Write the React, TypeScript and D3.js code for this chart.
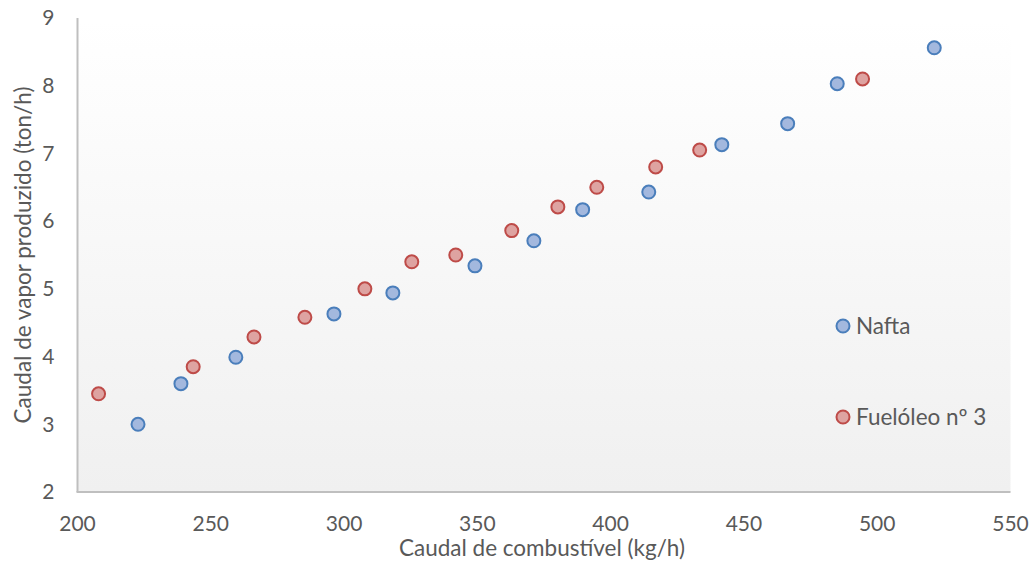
import React from 'react';
import * as d3 from 'd3';

// caudal de combustível (kg/h) vs caudal de vapor (ton/h)
const naftaX = [222.7, 238.8, 259.4, 296.2, 318.3, 349.1, 371.2, 389.5, 414.3, 441.7, 466.4, 485.0, 521.4];
const naftaY = [3.0, 3.6, 3.99, 4.63, 4.94, 5.34, 5.71, 6.17, 6.43, 7.13, 7.44, 8.03, 8.56];

const fuelX = [207.9, 243.4, 266.2, 285.3, 307.8, 325.4, 341.9, 362.9, 380.2, 394.8, 416.9, 433.4, 494.5];
const fuelY = [3.45, 3.85, 4.29, 4.58, 5.0, 5.40, 5.50, 5.86, 6.21, 6.50, 6.80, 7.05, 8.10];

const xTicks = [200, 250, 300, 350, 400, 450, 500, 550];
const yTicks = [2, 3, 4, 5, 6, 7, 8, 9];

const seriesNames = ['Nafta', 'Fuelóleo nº 3'];
const xTitle = 'Caudal de combustível (kg/h)';
const yTitle = 'Caudal de vapor produzido (ton/h)';

const W = 1030;
const H = 563;
const margin = { top: 18, right: 20, bottom: 71, left: 77.5 };
const font = 'Lato, "Open Sans", sans-serif';
const textColor = '#595959';

const styles = [
  { fill: '#a3b8de', stroke: '#4a7ebb' },
  { fill: '#dea3a1', stroke: '#be4b48' },
];

export default function App() {
  const x = d3.scaleLinear().domain([200, 550]).range([margin.left, 1010.5]);
  const y = d3.scaleLinear().domain([2, 9]).range([492, margin.top]);

  const series = [
    naftaX.map((v, i) => [v, naftaY[i]]),
    fuelX.map((v, i) => [v, fuelY[i]]),
  ];

  // legend entries sit inside the plot, right side
  const legendY = [326, 417];

  return (
    <svg width={W} height={H} style={{ position: 'absolute', left: 0, top: 0, background: '#fff' }}>
      <defs>
        <linearGradient id="plotBg" x1="0" y1="0" x2="0" y2="1">
          <stop offset="0" stopColor="#ffffff" />
          <stop offset="1" stopColor="#f0f0f0" />
        </linearGradient>
      </defs>
      <rect x={x(200)} y={y(9) + 2} width={x(550) - x(200)} height={y(2) - y(9) - 2} fill="url(#plotBg)" />
      <line x1={x(200)} x2={x(200)} y1={y(9)} y2={y(2)} stroke="#bfbfbf" strokeWidth={2} />
      <line x1={x(200) - 1} x2={x(550)} y1={y(2)} y2={y(2)} stroke="#bfbfbf" strokeWidth={2} />

      {yTicks.map(t => (
        <text key={t} x={x(200) - 23} y={y(t)} dy="0.35em" textAnchor="end"
          fontFamily={font} fontSize={21} fill={textColor}>{t}</text>
      ))}
      {xTicks.map(t => (
        <text key={t} x={x(t)} y={y(2) + 32} dy="0.35em" textAnchor="middle"
          fontFamily={font} fontSize={21} fill={textColor}>{t}</text>
      ))}

      <text x={(x(200) + x(550)) / 2 - 2} y={556} textAnchor="middle"
        fontFamily={font} fontSize={22.5} fill={textColor}>{xTitle}</text>
      <text transform={`translate(31, ${(y(2) + y(9)) / 2}) rotate(-90)`} textAnchor="middle"
        fontFamily={font} fontSize={22.5} fill={textColor}>{yTitle}</text>

      {series.map((pts, si) => (
        <g key={si} fill={styles[si].fill} stroke={styles[si].stroke} strokeWidth={2}>
          {pts.map((p, i) => (
            <circle key={i} cx={x(p[0])} cy={y(p[1])} r={6.5} />
          ))}
        </g>
      ))}

      {seriesNames.map((name, i) => (
        <g key={name}>
          <circle cx={843} cy={legendY[i]} r={6.5} fill={styles[i].fill} stroke={styles[i].stroke} strokeWidth={2} />
          <text x={856} y={legendY[i]} dy="0.35em" fontFamily={font} fontSize={22.5} fill={textColor}>{name}</text>
        </g>
      ))}
    </svg>
  );
}
